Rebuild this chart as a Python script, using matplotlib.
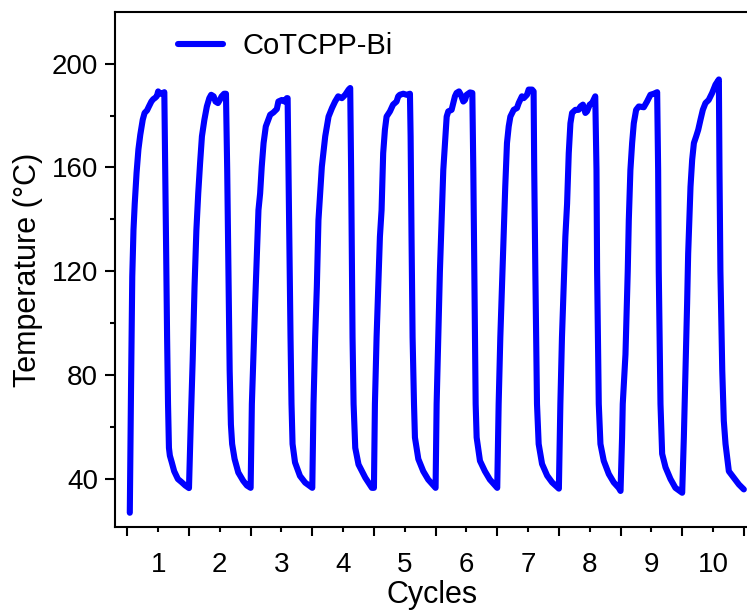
import matplotlib
matplotlib.use('Agg')
import matplotlib.pyplot as plt
from matplotlib.ticker import FixedLocator, NullFormatter, FixedFormatter

plt.rcParams['font.family'] = ['Liberation Sans', 'DejaVu Sans']

# (phase within cycle, temperature in degC)
cycle_01 = [(0.04, 27), (0.06, 75), (0.08, 118), (0.10, 136), (0.12, 146), (0.15, 158),
            (0.18, 167), (0.21, 172.6), (0.25, 178.4), (0.28, 181), (0.32, 182), (0.35, 183.5),
            (0.39, 185.4), (0.42, 186.3), (0.45, 186.8), (0.48, 187.5), (0.50, 189.3),
            (0.53, 188.4), (0.56, 188.4), (0.60, 189), (0.615, 159), (0.63, 127), (0.645, 94.6),
            (0.66, 69), (0.675, 52), (0.69, 49), (0.72, 46.5), (0.76, 43), (0.82, 40), (0.88, 38.8),
            (0.94, 37.5)]
cycle_02 = [(0, 36.5), (0.03, 62.4), (0.06, 85.6), (0.09, 114), (0.12, 135.8), (0.15, 150),
            (0.18, 161.6), (0.21, 172), (0.25, 178.4), (0.29, 183.5), (0.33, 186.7), (0.36, 188),
            (0.40, 187.4), (0.43, 185.4), (0.47, 184.8), (0.50, 186), (0.53, 187.4),
            (0.57, 188.4), (0.60, 188.4), (0.62, 159), (0.64, 120), (0.66, 81.7), (0.68, 61),
            (0.70, 53.5), (0.74, 47.7), (0.80, 42.5), (0.88, 39.3), (0.94, 37.5)]
cycle_03 = [(0, 36.6), (0.02, 68.9), (0.046, 88), (0.073, 107.6), (0.10, 125.5), (0.127, 143.6),
            (0.154, 150), (0.18, 160.3), (0.21, 169.4), (0.246, 175.8), (0.317, 180.3),
            (0.37, 181.2), (0.425, 182.5), (0.45, 185.4), (0.506, 186), (0.55, 185.4),
            (0.587, 186.7), (0.60, 186.7), (0.614, 159), (0.63, 127), (0.647, 94.6),
            (0.663, 68.9), (0.68, 53.5), (0.72, 46.4), (0.80, 41.2), (0.885, 38.6)]
cycle_04 = [(0, 36.6), (0.02, 68.9), (0.047, 94.6), (0.074, 114), (0.10, 139.7), (0.155, 160.3),
            (0.21, 172), (0.264, 179.6), (0.32, 182.9), (0.37, 185.4), (0.42, 187.4),
            (0.48, 186.7), (0.534, 188), (0.59, 190), (0.615, 190.6), (0.63, 159), (0.643, 120),
            (0.653, 94.6), (0.67, 68.9), (0.697, 52), (0.75, 45.6), (0.86, 40.5), (0.967, 36.6)]
cycle_05 = [(0, 36.6), (0.016, 68.9), (0.043, 94.6), (0.07, 114), (0.097, 133.3), (0.124, 143.6),
            (0.15, 165.5), (0.178, 174.5), (0.205, 179.6), (0.26, 181.6), (0.31, 184.2),
            (0.367, 185.4), (0.394, 187.4), (0.42, 188), (0.476, 188.4), (0.53, 188),
            (0.584, 188.4), (0.595, 172), (0.61, 133), (0.627, 94.6), (0.65, 68.9), (0.665, 56),
            (0.72, 47.7), (0.80, 43), (0.88, 39.8)]
cycle_06 = [(0, 36.6), (0.017, 68.9), (0.044, 94.6), (0.07, 120), (0.098, 139.7), (0.125, 159),
            (0.152, 169.4), (0.18, 179.6), (0.206, 181.6), (0.26, 182.2), (0.287, 184.8),
            (0.314, 187.4), (0.34, 188.7), (0.38, 189.3), (0.41, 188), (0.45, 185.4),
            (0.477, 186), (0.504, 188), (0.558, 188.9), (0.596, 188.7), (0.612, 159),
            (0.628, 120), (0.65, 68.9), (0.666, 56), (0.72, 47), (0.80, 43), (0.88, 39.8)]
cycle_07 = [(0, 36.6), (0.023, 68.9), (0.05, 94.6), (0.077, 114), (0.104, 133.3), (0.13, 152.6),
            (0.158, 169.4), (0.186, 175.8), (0.213, 179.6), (0.267, 182.2), (0.32, 182.9),
            (0.348, 184.8), (0.40, 187.4), (0.43, 186.7), (0.483, 188), (0.51, 190),
            (0.565, 190), (0.59, 189.3), (0.60, 159), (0.618, 120), (0.645, 68.9),
            (0.672, 53.5), (0.727, 45.8), (0.81, 41.3), (0.89, 38.7)]
cycle_08 = [(0, 36.3), (0.024, 68.9), (0.05, 94.6), (0.078, 114), (0.105, 133.3), (0.133, 146),
            (0.16, 165.5), (0.187, 177), (0.214, 181), (0.268, 182.2), (0.32, 182.2),
            (0.35, 183.5), (0.39, 184.2), (0.43, 181), (0.457, 181.6), (0.50, 184.2),
            (0.538, 184.8), (0.576, 186.7), (0.59, 187.4), (0.61, 159), (0.62, 120),
            (0.647, 68.9), (0.674, 53.5), (0.728, 47), (0.81, 41.9), (0.89, 38.7), (0.97, 36.6)]
cycle_09 = [(0, 35.4), (0.025, 56), (0.036, 68.9), (0.08, 88), (0.117, 120), (0.134, 139.7),
            (0.16, 159), (0.188, 169.4), (0.215, 177), (0.253, 182.2), (0.296, 183.5),
            (0.377, 183.2), (0.43, 185.4), (0.485, 188), (0.54, 188.4), (0.594, 189),
            (0.61, 159), (0.62, 120), (0.648, 68.9), (0.675, 49.7), (0.73, 44.5), (0.81, 40),
            (0.89, 36.6)]
cycle_10 = [(0, 34.7), (0.027, 56), (0.054, 81.7), (0.08, 107.6), (0.097, 126.8), (0.135, 152.6),
            (0.162, 163), (0.19, 169.4), (0.227, 172), (0.26, 174.5), (0.297, 178.4),
            (0.335, 182.2), (0.378, 184.8), (0.43, 186), (0.486, 188.7), (0.54, 191.9),
            (0.595, 193.9), (0.605, 159), (0.62, 120), (0.65, 81.7), (0.675, 62.4),
            (0.703, 53.5), (0.757, 43), (0.837, 40.5), (0.92, 37.9), (1.0, 36)]

cycles = [cycle_01, cycle_02, cycle_03, cycle_04, cycle_05,
          cycle_06, cycle_07, cycle_08, cycle_09, cycle_10]
cycle_labels = ['1', '2', '3', '4', '5', '6', '7', '8', '9', '10']
y_major = [40, 80, 120, 160, 200]
y_minor = [60, 100, 140, 180]
series_name = 'CoTCPP-Bi'

W, H = 747, 611
fig = plt.figure(figsize=(W / 100, H / 100), dpi=100)
left, right = 115 / W, 750 / W
bottom, top = (H - 527.3) / H, (H - 11.7) / H
ax = fig.add_axes([left, bottom, right - left, top - bottom])

time, temp = [], []
for k, cyc in enumerate(cycles):
    for p, t in cyc:
        time.append(k + p)
        temp.append(t)

ax.plot(time, temp, color='#0000FF', lw=4.4, solid_joinstyle='round',
        solid_capstyle='round', label=series_name)

ax.set_xlim(-0.2, 10.1)
ax.set_ylim(21.4, 220)

ax.xaxis.set_major_locator(FixedLocator(list(range(len(cycles) + 1))))
ax.xaxis.set_major_formatter(NullFormatter())
ax.xaxis.set_minor_locator(FixedLocator([k + 0.5 for k in range(len(cycles))]))
ax.xaxis.set_minor_formatter(FixedFormatter(cycle_labels))

ax.yaxis.set_major_locator(FixedLocator(y_major))
ax.yaxis.set_minor_locator(FixedLocator(y_minor))

ax.tick_params(axis='x', which='major', length=6.7, width=1.5, direction='out', top=False)
ax.tick_params(axis='x', which='minor', length=3.6, width=1.5, direction='out', pad=14,
               labelsize=20, top=False)
ax.tick_params(axis='y', which='major', length=7.2, width=1.5, direction='out', pad=5,
               labelsize=20, right=False)
ax.tick_params(axis='y', which='minor', length=3.6, width=1.5, direction='out', right=False)

for s in ax.spines.values():
    s.set_linewidth(1.5)

ax.set_xlabel('Cycles', fontsize=22)
ax.xaxis.set_label_coords(0.5, -0.102)
ax.set_ylabel('Temperature (°C)', fontsize=22)
ax.yaxis.set_label_coords(-0.113, 0.5)

ax.legend(loc='center left', bbox_to_anchor=(178 / W, 1 - 46 / H),
          bbox_transform=fig.transFigure, frameon=False, fontsize=21,
          handlelength=1.55, handletextpad=0.65, borderpad=0, borderaxespad=0)

fig.savefig('out.png', dpi=100)
